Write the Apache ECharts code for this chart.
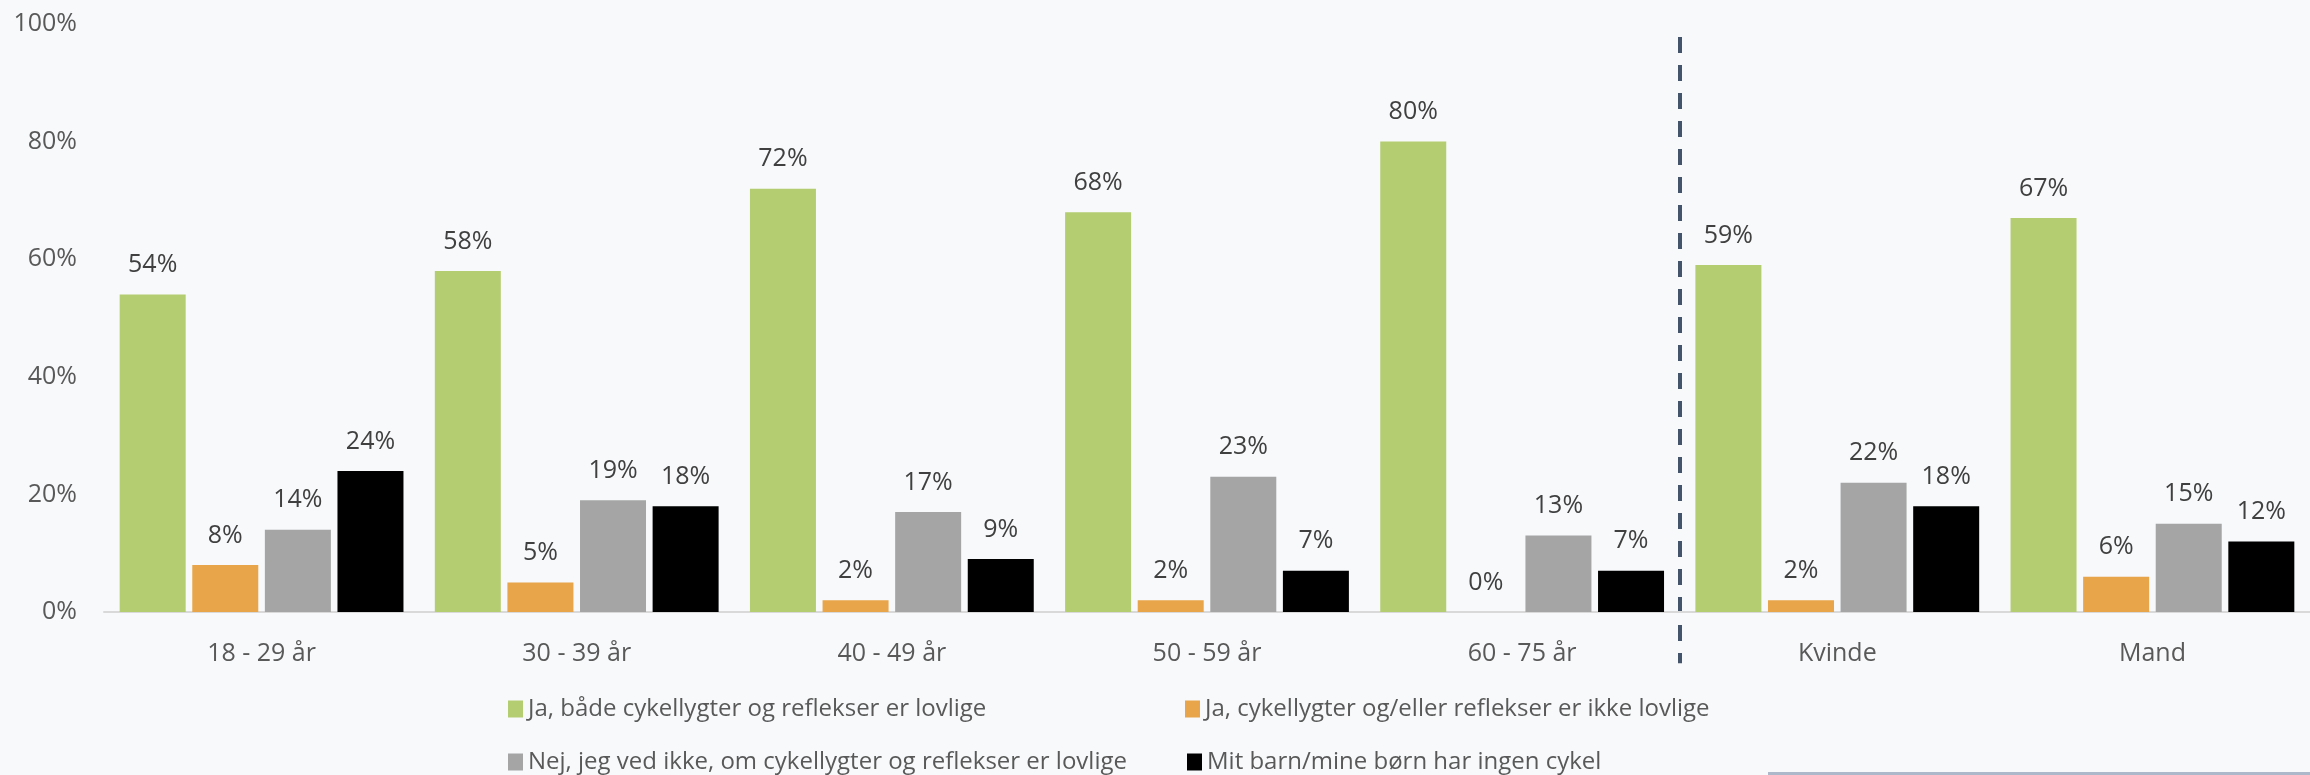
<!DOCTYPE html>
<html lang="da">
<head>
    <meta charset="UTF-8">
    <title>Cykellygter og reflekser</title>
    <script src="https://cdn.jsdelivr.net/npm/echarts@6/dist/echarts.min.js"></script>
    <style>
        html, body {
            margin: 0;
            padding: 0;
            background: #f7f9fb;
        }

        #chart1 {
            width: 2310px;
            height: 775px;
        }
    </style>
</head>
<body>
<div id="chart1"></div>

<script>
    var categories = ['18 - 29 år', '30 - 39 år', '40 - 49 år', '50 - 59 år', '60 - 75 år', 'Kvinde', 'Mand'];
    var seriesNames = [
        'Ja, både cykellygter og reflekser er lovlige',
        'Ja, cykellygter og/eller reflekser er ikke lovlige',
        'Nej, jeg ved ikke, om cykellygter og reflekser er lovlige',
        'Mit barn/mine børn har ingen cykel'
    ];
    var lovlige = [54, 58, 72, 68, 80, 59, 67];
    var ikkeLovlige = [8, 5, 2, 2, 0, 2, 6];
    var vedIkke = [14, 19, 17, 23, 13, 22, 15];
    var ingenCykel = [24, 18, 9, 7, 7, 18, 12];
    var yTicks = [0, 20, 40, 60, 80, 100];

    var colors = ['#b5cd71', '#e8a549', '#a5a5a5', '#000000'];
    var fontName = '"Open Sans", "Noto Sans", sans-serif';

    function makeSeries(i, data) {
        return {
            name: seriesNames[i],
            type: 'bar',
            data: data,
            barWidth: 66,
            barGap: '10%',
            itemStyle: {color: colors[i]},
            label: {
                show: true,
                position: 'top',
                distance: 17,
                color: '#404040',
                fontFamily: fontName,
                fontSize: 25,
                formatter: function (p) {
                    return p.value + '%';
                }
            }
        };
    }

    function makeLegend(i, left, top) {
        return {
            data: [seriesNames[i]],
            left: left,
            top: top,
            padding: 0,
            icon: 'rect',
            itemWidth: 15,
            itemHeight: 17,
            itemGap: 6,
            selectedMode: false,
            textStyle: {color: '#595959', fontFamily: fontName, fontSize: 24}
        };
    }

    var ctx1 = echarts.init(document.getElementById('chart1'));

    ctx1.setOption({
        backgroundColor: '#f7f9fb',
        animation: false,
        grid: {left: 104, top: 24, height: 588, width: 2224},
        legend: [
            makeLegend(0, 508, 697),
            makeLegend(1, 1185, 697),
            makeLegend(2, 508, 750),
            makeLegend(3, 1187, 750)
        ],
        xAxis: {
            type: 'category',
            data: categories,
            axisTick: {show: false},
            axisLine: {lineStyle: {color: '#d9d9d9', width: 2}},
            axisLabel: {color: '#595959', fontFamily: fontName, fontSize: 25, margin: 29}
        },
        yAxis: {
            type: 'value',
            min: yTicks[0],
            max: yTicks[yTicks.length - 1],
            interval: yTicks[1] - yTicks[0],
            splitLine: {show: false},
            axisLine: {show: false},
            axisTick: {show: false},
            axisLabel: {
                color: '#595959',
                fontFamily: fontName,
                fontSize: 25,
                margin: 27,
                formatter: '{value}%'
            }
        },
        series: [
            makeSeries(0, lovlige),
            makeSeries(1, ikkeLovlige),
            makeSeries(2, vedIkke),
            makeSeries(3, ingenCykel)
        ]
    });

    // skillelinje mellem alder og køn
    var x1 = ctx1.convertToPixel({xAxisIndex: 0}, categories[4]);
    var x2 = ctx1.convertToPixel({xAxisIndex: 0}, categories[5]);
    var divX = Math.round((x1 + x2) / 2);
    var divTop = ctx1.convertToPixel({yAxisIndex: 0}, 97.8);
    var divBottom = ctx1.convertToPixel({yAxisIndex: 0}, -8.7);

    ctx1.setOption({
        graphic: [
            {
                type: 'line',
                shape: {x1: divX, y1: divTop, x2: divX, y2: divBottom},
                style: {stroke: '#44546a', lineWidth: 4, lineDash: [16, 12]}
            },
            {
                type: 'rect',
                right: 0,
                bottom: 0,
                shape: {width: 542, height: 3},
                style: {fill: '#adb9ca'}
            }
        ]
    });
</script>
</body>
</html>
